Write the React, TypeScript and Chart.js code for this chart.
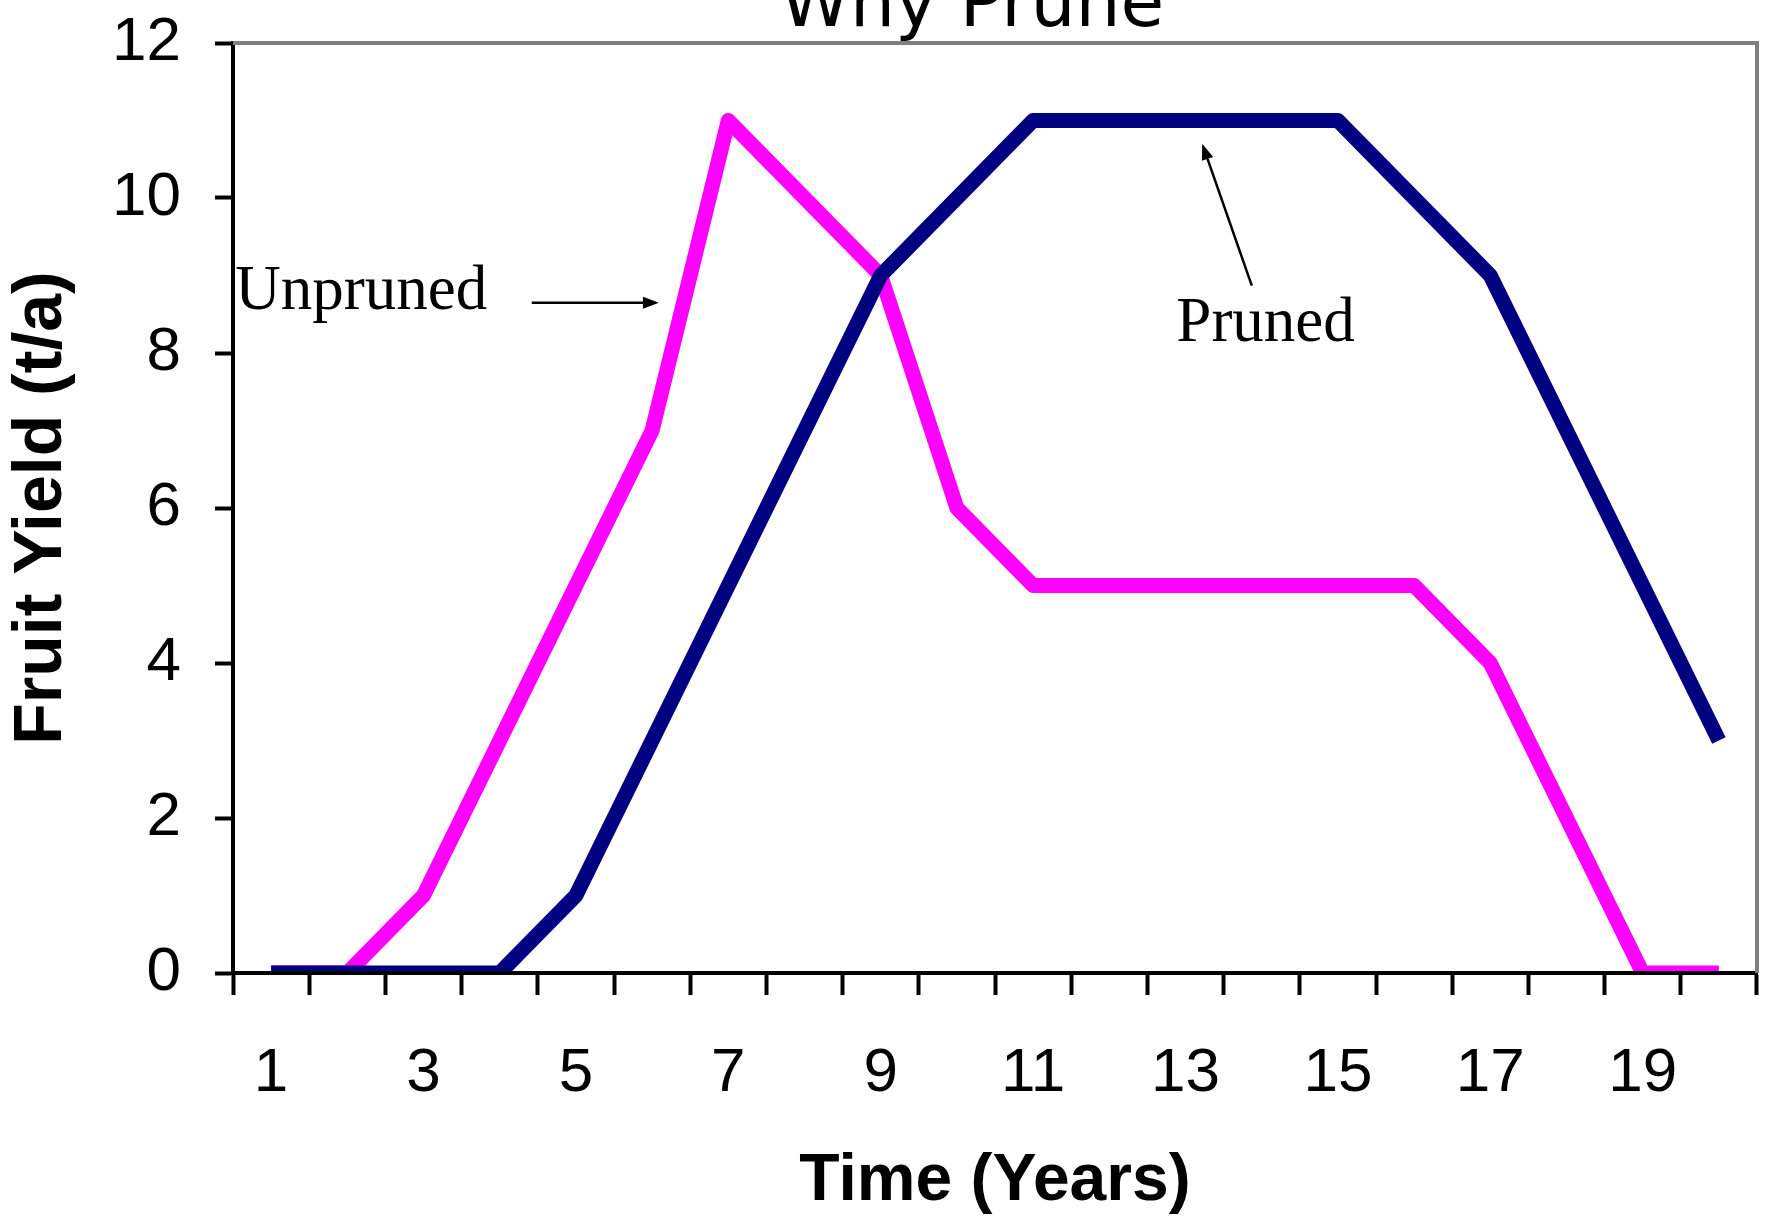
import { useEffect, useRef } from 'react';
import { Chart, registerables } from 'chart.js';

Chart.register(...registerables);

// Orchard age in years (category axis)
const years = ['1', '2', '3', '4', '5', '6', '7', '8', '9', '10', '11', '12', '13', '14', '15', '16', '17', '18', '19', '20'];

// Fruit yield in t/a for each year
const prunedYield = [0, 0, 0, 0, 1, 3, 5, 7, 9, 10, 11, 11, 11, 11, 11, 10, 9, 7, 5, 3];
const unprunedYield = [0, 0, 1, 3, 5, 7, 11, 10, 9, 6, 5, 5, 5, 5, 5, 5, 4, 2, 0, 0];

// Value axis range
const yMin = 0;
const yMax = 12;
const yStep = 2;

const SANS = '"Liberation Sans", Arial, sans-serif';
const SERIF = '"Liberation Serif", "Times New Roman", serif';
const TITLE_FONT = '"DejaVu Sans", Verdana, sans-serif';

// Canvas is wider than the visible frame so the heading sits over the plot
const CANVAS_W = 1936;
const CANVAS_H = 1259;
const PLOT_RIGHT = 1757;

// Text callouts, placed in data units (x = category index, y = yield)
const callouts = [
  { text: 'Unpruned', x: -0.47, y: 8.57 },
  { text: 'Pruned', x: 11.88, y: 8.16 },
];

// Pointer arrows, from tail to head, in data units
const pointers = [
  { from: [3.42, 8.65], to: [5.09, 8.65] },
  { from: [12.87, 8.87], to: [12.22, 10.7] },
];

const framePlugin = {
  id: 'plotFrame',
  beforeDatasetsDraw(chart: any) {
    const { ctx, chartArea } = chart;
    ctx.save();
    ctx.strokeStyle = '#808080';
    ctx.lineWidth = 4;
    ctx.beginPath();
    ctx.moveTo(chartArea.left, chartArea.top);
    ctx.lineTo(chartArea.right, chartArea.top);
    ctx.lineTo(chartArea.right, chartArea.bottom);
    ctx.stroke();
    ctx.restore();
  },
};

const calloutPlugin = {
  id: 'callouts',
  afterDatasetsDraw(chart: any) {
    const { ctx } = chart;
    const xs = chart.scales.x;
    const ys = chart.scales.y;
    ctx.save();
    ctx.fillStyle = '#000';
    ctx.strokeStyle = '#000';
    ctx.font = `63px ${SERIF}`;
    ctx.textAlign = 'left';
    ctx.textBaseline = 'alphabetic';
    for (const c of callouts) {
      ctx.fillText(c.text, xs.getPixelForValue(c.x), ys.getPixelForValue(c.y));
    }
    for (const p of pointers) {
      const x0 = xs.getPixelForValue(p.from[0]);
      const y0 = ys.getPixelForValue(p.from[1]);
      const x1 = xs.getPixelForValue(p.to[0]);
      const y1 = ys.getPixelForValue(p.to[1]);
      const ang = Math.atan2(y1 - y0, x1 - x0);
      const headLen = 16;
      const headHalf = 6;
      const bx = x1 - headLen * Math.cos(ang);
      const by = y1 - headLen * Math.sin(ang);
      ctx.lineWidth = 2.5;
      ctx.beginPath();
      ctx.moveTo(x0, y0);
      ctx.lineTo(bx, by);
      ctx.stroke();
      ctx.beginPath();
      ctx.moveTo(x1, y1);
      ctx.lineTo(bx + headHalf * Math.sin(ang), by - headHalf * Math.cos(ang));
      ctx.lineTo(bx - headHalf * Math.sin(ang), by + headHalf * Math.cos(ang));
      ctx.closePath();
      ctx.fill();
    }
    ctx.restore();
  },
};

export default function App() {
  const canvasRef = useRef<HTMLCanvasElement>(null);

  useEffect(() => {
    const canvas = canvasRef.current;
    if (!canvas) return;
    const chart = new Chart(canvas, {
      type: 'line',
      data: {
        labels: years,
        datasets: [
          {
            label: 'Pruned',
            data: prunedYield,
            borderColor: '#000080',
            backgroundColor: '#000080',
            borderWidth: 15,
            borderJoinStyle: 'round',
            borderCapStyle: 'butt',
            pointRadius: 0,
            tension: 0,
            clip: { left: 20, right: 20, top: 20, bottom: -2 },
          },
          {
            label: 'Unpruned',
            data: unprunedYield,
            borderColor: '#FF00FF',
            backgroundColor: '#FF00FF',
            borderWidth: 15,
            borderJoinStyle: 'round',
            borderCapStyle: 'butt',
            pointRadius: 0,
            tension: 0,
            clip: { left: 20, right: 20, top: 20, bottom: -2 },
          },
        ],
      },
      options: {
        responsive: false,
        devicePixelRatio: 1,
        animation: false,
        layout: { padding: { left: 8, right: 0, top: 0, bottom: 0 } },
        plugins: {
          legend: { display: false },
          tooltip: { enabled: false },
          title: {
            display: true,
            text: 'Why Prune',
            color: '#000',
            font: { family: TITLE_FONT, size: 71, weight: 'normal', lineHeight: 1 },
            padding: { top: 12, bottom: 0 },
          },
        },
        scales: {
          x: {
            type: 'category',
            offset: true,
            grid: {
              display: true,
              offset: true,
              drawOnChartArea: false,
              drawTicks: true,
              tickLength: 22,
              tickWidth: 4,
              tickColor: '#000',
            },
            border: { display: true, color: '#000', width: 4 },
            ticks: {
              autoSkip: false,
              maxRotation: 0,
              color: '#000',
              padding: 48,
              font: { family: SANS, size: 62, lineHeight: 1 },
              callback: (_v: any, i: number) => (i % 2 === 0 ? years[i] : ''),
            },
            title: {
              display: true,
              text: 'Time (Years)',
              color: '#000',
              font: { family: SANS, size: 66, weight: 'bold', lineHeight: 1 },
              padding: { top: 0, bottom: 4 },
            },
            afterFit: (scale: any) => {
              scale.height = 246;
            },
          },
          y: {
            min: yMin,
            max: yMax,
            grid: {
              display: true,
              drawOnChartArea: false,
              drawTicks: true,
              tickLength: 18,
              tickWidth: 4,
              tickColor: '#000',
            },
            border: { display: true, color: '#000', width: 4 },
            ticks: {
              stepSize: yStep,
              color: '#000',
              padding: 34,
              font: { family: SANS, size: 62, lineHeight: 1 },
            },
            title: {
              display: true,
              text: 'Fruit Yield (t/a)',
              color: '#000',
              font: { family: SANS, size: 68, weight: 'bold', lineHeight: 1 },
              padding: { top: 0, bottom: 0 },
            },
            afterFit: (scale: any) => {
              scale.width = 225;
            },
          },
          // Empty right-hand spacer that keeps the plot inside the visible frame
          spacer: {
            type: 'linear',
            position: 'right',
            display: true,
            min: yMin,
            max: yMax,
            grid: { display: false, drawTicks: false },
            border: { display: false },
            ticks: { display: false },
            afterFit: (scale: any) => {
              scale.width = CANVAS_W - PLOT_RIGHT;
            },
          },
        },
      },
      plugins: [framePlugin, calloutPlugin],
    } as any);
    return () => chart.destroy();
  }, []);

  return (
    <div
      style={{
        position: 'fixed',
        left: 0,
        top: 0,
        width: 1772,
        height: 1219,
        overflow: 'hidden',
        background: '#fff',
      }}
    >
      <canvas
        ref={canvasRef}
        width={CANVAS_W}
        height={CANVAS_H}
        style={{ position: 'absolute', left: 0, top: -40, width: CANVAS_W, height: CANVAS_H }}
      />
    </div>
  );
}
